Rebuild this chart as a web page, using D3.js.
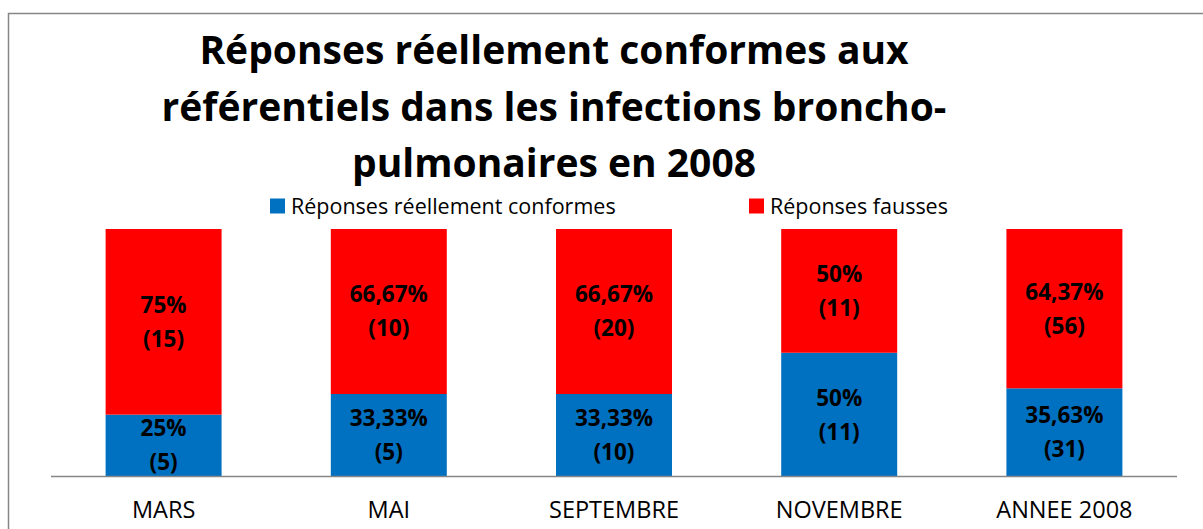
<!DOCTYPE html>
<html>
<head>
<meta charset="utf-8">
<script src="https://cdn.jsdelivr.net/npm/d3@7"></script>
<style>
  html, body { margin: 0; padding: 0; background: #fff; }
  svg { display: block; font-family: "Open Sans", Lato, sans-serif; }
</style>
</head>
<body>
<svg id="chart" width="1203" height="529"></svg>
<script>
// Chart data
const categories = ["MARS", "MAI", "SEPTEMBRE", "NOVEMBRE", "ANNEE 2008"];
const seriesNames = ["Réponses réellement conformes", "Réponses fausses"];
const conformesPct = [25, 33.33, 33.33, 50, 35.63];
const faussesPct = [75, 66.67, 66.67, 50, 64.37];
const conformesLabel = ["25%", "33,33%", "33,33%", "50%", "35,63%"];
const faussesLabel = ["75%", "66,67%", "66,67%", "50%", "64,37%"];
const conformesCount = [5, 5, 10, 11, 31];
const faussesCount = [15, 10, 20, 11, 56];
const titleLines = [
  "Réponses réellement conformes aux",
  "référentiels dans les infections broncho-",
  "pulmonaires en 2008"
];
const colors = ["#0070C0", "#FF0000"];

const svg = d3.select("#chart");

// Outer frame
svg.append("rect")
  .attr("x", 8.5).attr("y", 13.5)
  .attr("width", 1250).attr("height", 600)
  .attr("fill", "#fff")
  .attr("stroke", "#868686").attr("stroke-width", 1.5);

// Title
const title = svg.append("text")
  .attr("text-anchor", "middle")
  .attr("font-weight", "bold")
  .attr("font-size", 39)
  .attr("fill", "#000");
titleLines.forEach((line, i) => {
  title.append("tspan").attr("x", 554).attr("y", 64 + i * 56.5).text(line);
});

// Scales
const plotLeft = 51, plotRight = 1177, plotTop = 229, plotBottom = 476.5;
const x = d3.scaleBand().domain(categories).range([plotLeft, plotRight]).paddingInner(0.485).paddingOuter(0.2425);
const y = d3.scaleLinear().domain([0, 100]).range([plotBottom, plotTop]);

const table = categories.map((c, i) => ({
  cat: c,
  conformes: conformesPct[i],
  fausses: faussesPct[i]
}));
const stack = d3.stack().keys(["conformes", "fausses"]);
const layers = stack(table);

const labels = [
  { text: conformesLabel, count: conformesCount },
  { text: faussesLabel, count: faussesCount }
];

layers.forEach((layer, k) => {
  const g = svg.append("g");
  g.selectAll("rect")
    .data(layer)
    .join("rect")
    .attr("x", d => x(d.data.cat))
    .attr("y", d => y(d[1]))
    .attr("width", x.bandwidth())
    .attr("height", d => y(d[0]) - y(d[1]))
    .attr("fill", colors[k]);

  const t = g.selectAll("text")
    .data(layer)
    .join("text")
    .attr("text-anchor", "middle")
    .attr("font-weight", "bold")
    .attr("font-size", 22.5)
    .attr("fill", "#000");
  t.each(function(d, i) {
    const cx = x(d.data.cat) + x.bandwidth() / 2;
    const cy = (y(d[0]) + y(d[1])) / 2;
    const el = d3.select(this);
    el.append("tspan").attr("x", cx).attr("y", cy - 17).attr("dy", "0.35em").text(labels[k].text[i]);
    el.append("tspan").attr("x", cx).attr("y", cy + 17).attr("dy", "0.35em").text("(" + labels[k].count[i] + ")");
  });
});

// Category axis
const axis = svg.append("g")
  .attr("transform", `translate(0,${plotBottom})`)
  .call(d3.axisBottom(x).tickSize(0).tickPadding(25));
axis.select(".domain").attr("stroke", "#868686").attr("stroke-width", 1.5)
  .attr("d", `M${plotLeft},0H${plotRight}`);
axis.selectAll(".tick text")
  .attr("font-family", "'Open Sans', Lato, sans-serif")
  .attr("font-size", 23.5)
  .attr("fill", "#000");

// Legend
const legendPos = [270, 749];
const legend = svg.append("g");
seriesNames.forEach((name, i) => {
  legend.append("rect")
    .attr("x", legendPos[i]).attr("y", 198.5)
    .attr("width", 15).attr("height", 15)
    .attr("fill", colors[i]);
  legend.append("text")
    .attr("x", legendPos[i] + 21).attr("y", 213.5)
    .attr("font-size", 21.5)
    .attr("fill", "#000")
    .text(name);
});
</script>
</body>
</html>
